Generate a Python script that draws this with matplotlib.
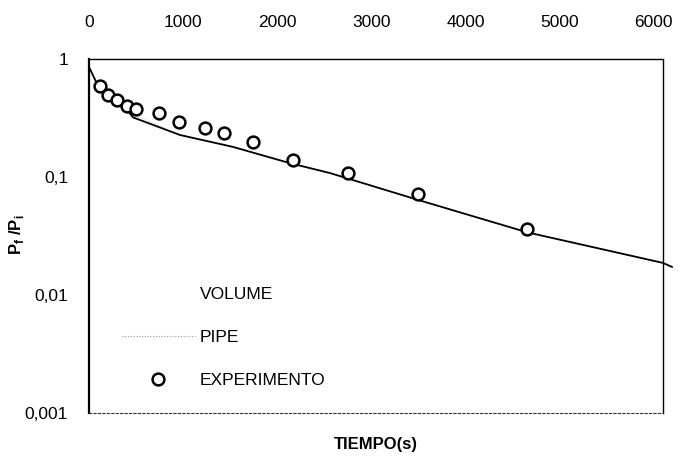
import matplotlib
matplotlib.use("Agg")
import matplotlib.pyplot as plt
from matplotlib.lines import Line2D
from matplotlib.ticker import FixedLocator, FixedFormatter, NullLocator

plt.rcParams['font.family'] = ['Liberation Sans Narrow', 'Liberation Sans', 'DejaVu Sans']

# Experimental data (time s, Pf/Pi)
exp_t = [117, 202, 298, 404, 499, 744, 956, 1233, 1435, 1743, 2168, 2752, 3496, 4655]
exp_p = [0.59, 0.50, 0.45, 0.40, 0.38, 0.35, 0.29, 0.26, 0.236, 0.198, 0.139, 0.108, 0.072, 0.036]

# VOLUME model curve
vol_t = [0, 117, 404, 468, 967, 1530, 2136, 2561, 3496, 4655, 6100, 6195]
vol_p = [0.855, 0.546, 0.37, 0.32, 0.227, 0.18, 0.131, 0.108, 0.064, 0.034, 0.0187, 0.0173]

# PIPE model curve (faint, overlapping)
pipe_t = [0, 117, 404, 967, 1530, 2136, 2561, 3496, 4655, 6100]
pipe_p = [0.85, 0.54, 0.36, 0.225, 0.178, 0.130, 0.107, 0.064, 0.034, 0.0187]

xticks = [0, 1000, 2000, 3000, 4000, 5000, 6000]
xtick_labels = ['0', '1000', '2000', '3000', '4000', '5000', '6000']
yticks = [1, 0.1, 0.01, 0.001]
ytick_labels = ['1', '0,1', '0,01', '0,001']

fig = plt.figure(figsize=(6.85, 4.69), dpi=100)
ax = fig.add_axes([89/685, 1 - 413/469, (663-89)/685, (413-59)/469])

ax.plot(pipe_t, pipe_p, color='#bbbbbb', lw=0.8, ls=(0, (1, 2)), zorder=1)
ax.plot(vol_t, vol_p, color='black', lw=1.3, zorder=2, clip_on=False)
ax.plot(exp_t, exp_p, ls='none', marker='o', ms=8.5, mfc='white', mec='black', mew=1.8, zorder=3)

ax.set_yscale('log')
ax.set_xlim(0, 6100)
ax.set_ylim(0.001, 1)

ax.xaxis.tick_top()
ax.xaxis.set_major_locator(FixedLocator(xticks))
ax.xaxis.set_major_formatter(FixedFormatter(xtick_labels))
ax.yaxis.set_major_locator(FixedLocator(yticks))
ax.yaxis.set_major_formatter(FixedFormatter(ytick_labels))
ax.yaxis.set_minor_locator(NullLocator())
ax.tick_params(axis='x', length=0, pad=21, labelsize=12.5)
ax.tick_params(axis='y', length=0, pad=15, labelsize=12.5)

ax.spines['left'].set_linewidth(1.6)
ax.spines['top'].set_linestyle((0, (4, 1)))
ax.spines['top'].set_linewidth(1.0)
ax.spines['right'].set_linestyle((0, (4, 1)))
ax.spines['right'].set_linewidth(1.0)
ax.spines['bottom'].set_linestyle((0, (2, 2)))
ax.spines['bottom'].set_linewidth(0.8)
ax.spines['bottom'].set_color('#333333')

ax.set_ylabel(r'P$_\mathregular{f}$ /P$_\mathregular{i}$', fontsize=12, fontweight='bold')
ax.yaxis.set_label_coords((26 - 89) / 574, 0.503)
fig.text(376/685, 1 - 444/469, 'TIEMPO(s)', ha='center', va='center', fontsize=12, fontweight='bold')

handles = [
    Line2D([], [], color='white', lw=0),
    Line2D([], [], color='#999999', lw=0.8, ls=(0, (1, 1.5))),
    Line2D([], [], ls='none', marker='o', ms=8.5, mfc='white', mec='black', mew=1.8),
]
ax.legend(handles, ['VOLUME', 'PIPE', 'EXPERIMENTO'], loc='upper left',
          bbox_to_anchor=(0.03, 0.40), frameon=False, fontsize=12.5,
          labelspacing=1.6, handlelength=4.2, handletextpad=0.3)

fig.savefig('out.png', dpi=100)
